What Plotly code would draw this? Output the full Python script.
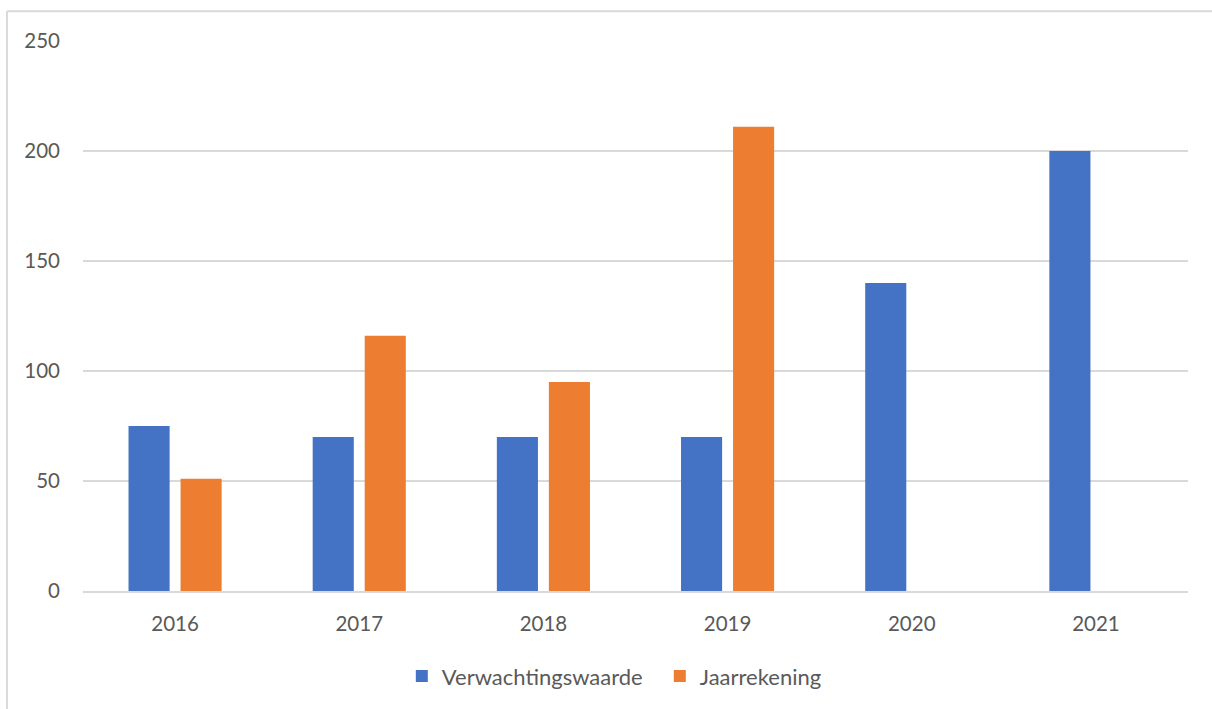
import plotly.graph_objects as go

years = ["2016", "2017", "2018", "2019", "2020", "2021"]
verwachting = [75, 70, 70, 70, 140, 200]
jaarrekening = [51, 116, 95, 211, None, None]
y_ticks = [0, 50, 100, 150, 200, 250]

FONT = "Lato"
TXT = "#595959"
GRID = "#D9D9D9"

fig = go.Figure()
fig.add_trace(go.Bar(x=years, y=verwachting, name="Verwachtingswaarde",
                     marker=dict(color="#4472C4", line=dict(width=0))))
fig.add_trace(go.Bar(x=years, y=jaarrekening, name="Jaarrekening",
                     marker=dict(color="#ED7D31", line=dict(width=0))))

fig.update_layout(
    width=1212, height=709,
    margin=dict(l=83, r=24, t=41, b=116),
    paper_bgcolor="white", plot_bgcolor="white",
    barmode="group", bargap=0.435, bargroupgap=0.21,
    font=dict(family=FONT, size=20.5, color=TXT),
    showlegend=True,
    legend=dict(orientation="h", x=0.522, xanchor="center", y=-0.155, yanchor="middle",
                font=dict(family=FONT, size=22, color=TXT), itemclick=False,
                traceorder="normal", entrywidth=213, entrywidthmode="pixels"),
    xaxis=dict(showgrid=False, zeroline=False, showline=True, linecolor=GRID, linewidth=2,
               ticks="", tickfont=dict(family=FONT, size=20.5, color=TXT),
               ticklabelstandoff=13),
    yaxis=dict(range=[0, 250], tickvals=y_ticks, showgrid=True, gridcolor=GRID, gridwidth=2,
               zeroline=False, showline=False, ticks="",
               tickfont=dict(family=FONT, size=20.5, color=TXT), ticklabelstandoff=22),
    shapes=[
        dict(type="line", xref="paper", yref="paper", x0=-0.0688, x1=-0.0688, y0=-0.3, y1=1.0543,
             line=dict(color=GRID, width=2)),
        dict(type="line", xref="paper", yref="paper", x0=-0.0688, x1=1.05, y0=1.0543, y1=1.0543,
             line=dict(color=GRID, width=2)),
    ],
)

fig.write_html("out.html")
